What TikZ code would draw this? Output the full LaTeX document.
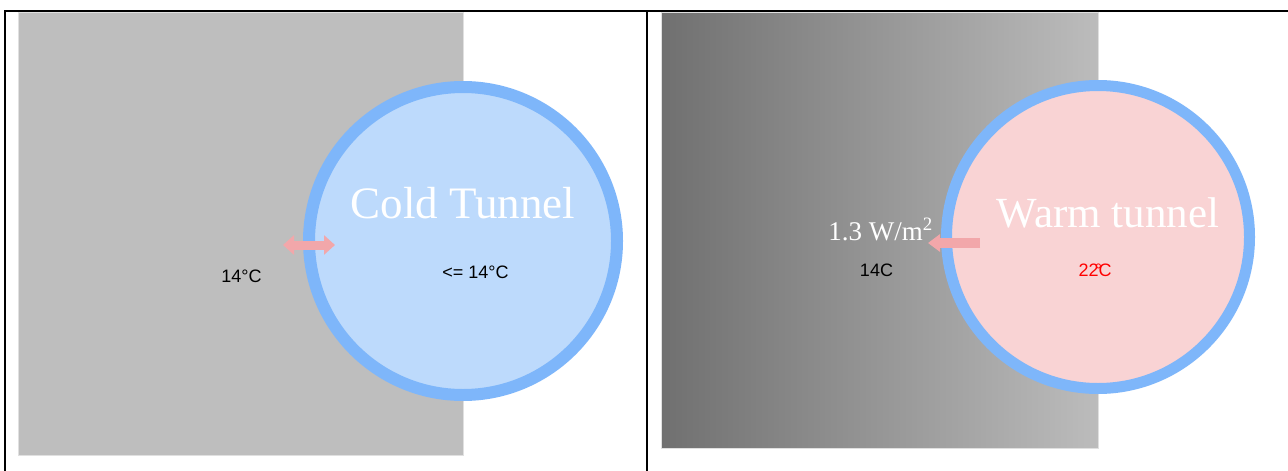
\documentclass[tikz,border=0pt]{standalone}
\usepackage{fontspec}
\setmainfont{Liberation Serif}
\setsansfont{Liberation Sans}
\usetikzlibrary{arrows.meta}
\definecolor{ringblue}{RGB}{126,182,250}
\definecolor{coldfill}{RGB}{189,218,252}
\definecolor{warmfill}{RGB}{249,211,212}
\definecolor{arrowpink}{RGB}{242,167,170}
\definecolor{wallgray}{RGB}{190,190,190}
\definecolor{gradleft}{RGB}{112,112,112}
\definecolor{gradright}{RGB}{188,188,188}
\definecolor{tempred}{RGB}{255,0,0}
\tikzset{
  frameline/.style={line width=2pt,black},
  ring/.style={line width=12pt,draw=ringblue},
  bigtitle/.style={text=white,font=\fontsize{45}{50}\selectfont,inner sep=0pt,anchor=base},
  smalllabel/.style={font=\sffamily\fontsize{18}{20}\selectfont,inner sep=0pt,anchor=base},
  fluxlabel/.style={text=white,font=\fontsize{27}{30}\selectfont,inner sep=0pt,anchor=base},
  heatarrow/.style={draw=arrowpink,line width=9pt},
}
\begin{document}
\begin{tikzpicture}[x=1pt,y=-1pt]
\useasboundingbox[fill=white] (0,0) rectangle (1288,471);
% frame
\draw[frameline] (4,11) -- (1288,11);
\draw[frameline] (5,11) -- (5,471);
\draw[frameline] (647,11) -- (647,471);
% left panel
\fill[wallgray,draw=black!12,line width=0.8pt] (18,12) rectangle (463,455);
\fill[coldfill] (463,241) circle[radius=154];
\draw[ring] (463,241) circle[radius=154];
\node[bigtitle] (cold) at (463,218) {Cold Tunnel};
\node[smalllabel] (outL) at (241.5,282) {14°C};
\node[smalllabel] (inL) at (475.5,278) {<= 14°C};
\coordinate (aL1) at (283,245);
\coordinate (aL2) at (335,245);
\draw[heatarrow,{Triangle[width=19pt,length=11pt]}-{Triangle[width=19pt,length=11pt]}] (aL1) -- (aL2);
% right panel
\shade[left color=gradleft,right color=gradright,draw=black!12,line width=0.8pt] (661,12) rectangle (1098,448);
\fill[warmfill] (1098,237) circle[radius=151.5];
\draw[ring,line width=11pt] (1098,237) circle[radius=151.5];
\node[bigtitle,font=\fontsize{43}{48}\selectfont] (warm) at (1108,227) {Warm tunnel};
\node[fluxlabel] (flux) at (880.5,240) {1.3 W/m\textsuperscript{2}};
\node[smalllabel] (outR) at (876.5,276.5) {14C};
\node[smalllabel,text=tempred] (inR) at (1095,276) {22\makebox[0pt]{°}C};
\coordinate (aR1) at (980,243);
\coordinate (aR2) at (928,243);
\draw[heatarrow,line width=10pt,-{Triangle[width=17pt,length=12pt]}] (aR1) -- (aR2);
\end{tikzpicture}
\end{document}
